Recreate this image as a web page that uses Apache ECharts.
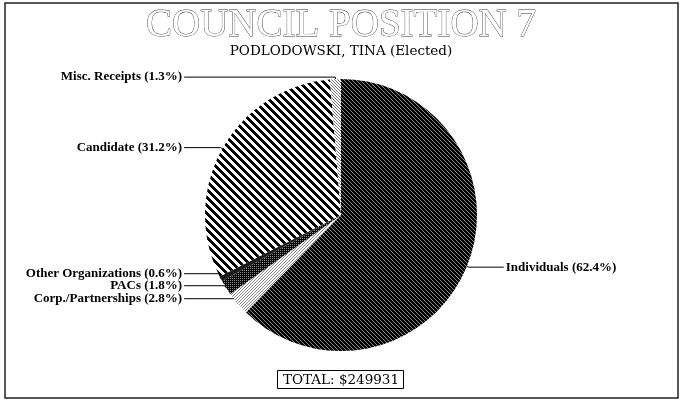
<!DOCTYPE html>
<html>
<head>
<meta charset="utf-8">
<script src="https://cdn.jsdelivr.net/npm/echarts@6/dist/echarts.min.js"></script>
<style>
html,body{margin:0;padding:0;background:#fff;}
#chart{width:682px;height:401px;}
</style>
</head>
<body>
<div id="chart"></div>
<script>
// ---- data ----
const categories = ['Individuals', 'Corp./Partnerships', 'PACs', 'Other Organizations', 'Candidate', 'Misc. Receipts'];
const percents = [62.4, 2.8, 1.8, 0.6, 31.2, 1.3];
const titleText = 'COUNCIL POSITION 7';
const subtitleText = 'PODLODOWSKI, TINA (Elected)';
const totalAmount = 249931;

// ---- pattern helpers (style only) ----
function makePattern(size, bg, fg, test) {
  const c = document.createElement('canvas');
  c.width = size; c.height = size;
  const ctx = c.getContext('2d');
  ctx.fillStyle = bg; ctx.fillRect(0, 0, size, size);
  ctx.fillStyle = fg;
  for (let y = 0; y < size; y++) for (let x = 0; x < size; x++) {
    if (test(x, y)) ctx.fillRect(x, y, 1, 1);
  }
  return { image: c, repeat: 'repeat' };
}
const md = (a, n) => ((a % n) + n) % n;
const patterns = [
  makePattern(4, '#000', '#8a8a8a', (x, y) => md(x - y, 4) === 0),          // Individuals
  makePattern(3, '#fff', '#888', (x, y) => md(x + y, 3) === 0),             // Corp
  makePattern(2, '#000', '#888', (x, y) => md(x + y, 2) === 0 && md(y, 2) === 0), // PACs
  '#1a1a1a',                                                                // Other
  makePattern(8, '#fff', '#000', (x, y) => md(x - y, 8) < 4),               // Candidate
  makePattern(3, '#fff', '#777', (x, y) => md(x - y, 3) === 0)              // Misc
];
// small vertical nudges for the crowded labels (style only)
const labelNudge = [0, -11, -9, -6, 0, 0];

const pieData = categories.map((name, i) => ({
  name: name,
  value: percents[i],
  itemStyle: { color: patterns[i] }
}));

const chart = echarts.init(document.getElementById('chart'), null, { renderer: 'canvas' });
chart.setOption({
  animation: false,
  backgroundColor: '#fff',
  title: [
    {
      text: titleText, left: 'center', top: 1,
      textStyle: {
        fontFamily: 'Liberation Serif', fontSize: 39, fontWeight: 'normal',
        color: '#fff', textBorderColor: '#333', textBorderWidth: 0.8
      }
    },
    {
      text: subtitleText, left: 'center', top: 39,
      textStyle: { fontFamily: 'DejaVu Serif', fontSize: 13.5, fontWeight: 'normal', color: '#000' }
    },
    {
      text: 'TOTAL: $' + totalAmount, left: 'center', top: 370,
      padding: [3, 5, 2, 6],
      borderColor: '#000', borderWidth: 1,
      textStyle: { fontFamily: 'DejaVu Serif', fontSize: 13.5, fontWeight: 'normal', color: '#000' }
    }
  ],
  graphic: [
    {
      type: 'rect', silent: true,
      shape: { x: 5, y: 3, width: 673, height: 395 },
      style: { fill: null, stroke: '#222', lineWidth: 1.5 }
    }
  ],
  series: [{
    type: 'pie',
    center: [341, 215],
    radius: 136,
    startAngle: 90,
    clockwise: true,
    minShowLabelAngle: 0,
    avoidLabelOverlap: true,
    emphasis: { disabled: true },
    data: pieData,
    label: {
      show: true,
      formatter: '{b} ({c}%)',
      fontFamily: 'Liberation Serif',
      fontSize: 13,
      fontWeight: 'bold',
      lineHeight: 13,
      color: '#000',
      alignTo: 'labelLine',
      distanceToLabelLine: 2
    },
    labelLine: {
      show: true,
      length: 2,
      length2: 35,
      lineStyle: { color: '#000', width: 1 }
    },
    labelLayout: function (params) {
      const d = labelNudge[params.dataIndex];
      if (!d || !params.labelLinePoints) return {};
      const pts = params.labelLinePoints.map(function (pt, k) {
        return k === 0 ? [pt[0], pt[1]] : [pt[0], pt[1] + d];
      });
      return { dy: d, labelLinePoints: pts };
    },
    itemStyle: { borderWidth: 0 }
  }]
});
</script>
</body>
</html>
